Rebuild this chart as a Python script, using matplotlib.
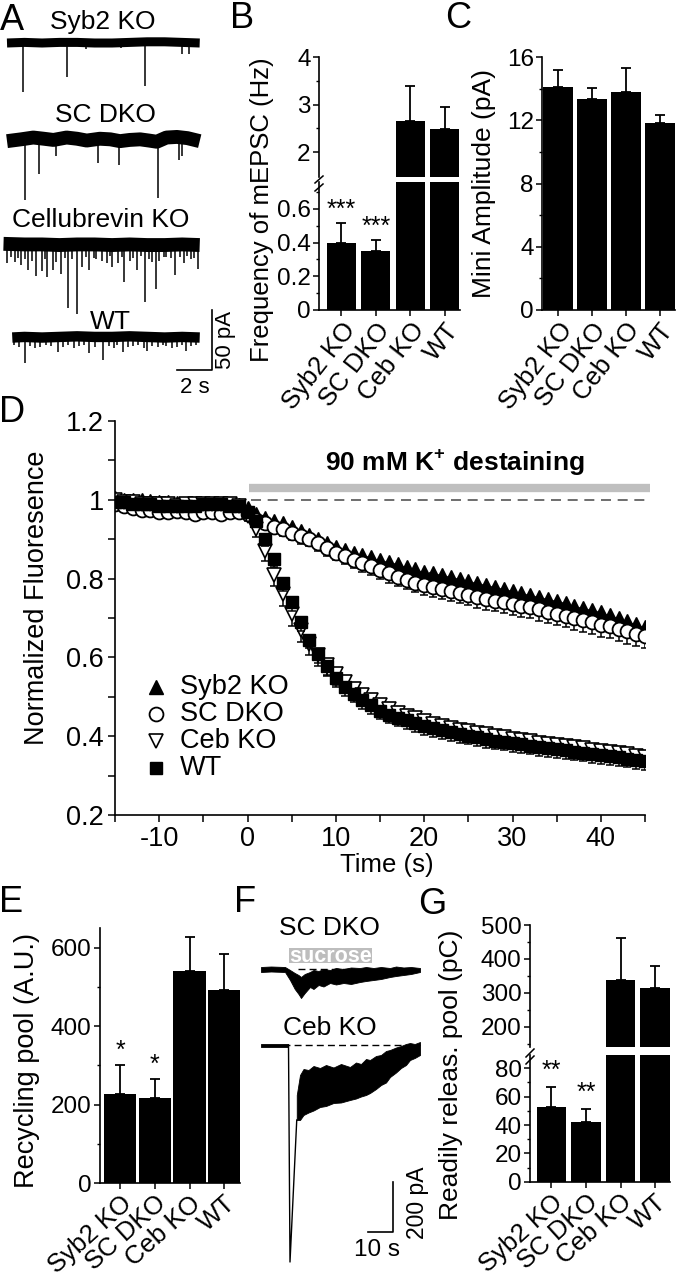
import numpy as np
import matplotlib.pyplot as plt
from matplotlib.lines import Line2D
from matplotlib.patches import Rectangle

plt.rcParams['font.family'] = ['Liberation Sans', 'DejaVu Sans']
plt.rcParams['mathtext.fontset'] = 'custom'
plt.rcParams['mathtext.rm'] = 'Liberation Sans'
plt.rcParams['mathtext.bf'] = 'Liberation Sans:bold'
plt.rcParams['axes.unicode_minus'] = False
plt.rcParams['axes.linewidth'] = 1.2

# --- bar panels (B, C, E, G) ---
CATS = ['Syb2 KO', 'SC DKO', 'Ceb KO', 'WT']
B_FREQ = [0.396, 0.352, 2.65, 2.48]
B_FREQ_ERR = [0.119, 0.064, 0.74, 0.47]
B_STARS = ['***', '***', '', '']
C_AMP = [14.1, 13.33, 13.78, 11.8]
C_AMP_ERR = [1.1, 0.7, 1.52, 0.54]
E_POOL = [227, 217, 540, 493]
E_POOL_ERR = [73, 48, 87, 92]
E_STARS = ['*', '*', '', '']
G_RRP = [52.9, 42.3, 338, 315]
G_RRP_ERR = [14.1, 9.0, 123, 64]
G_STARS = ['**', '**', '', '']

# --- panel D: FM dye destaining, 1 s sampling ---
TIME = list(range(-15, 46))
D_SYB2 = [1.005, 1.0, 1.0, 1.0, 0.998, 0.995, 0.995, 0.993, 0.99, 0.99, 0.99, 0.99, 0.99, 0.988, 0.988,
          0.98, 0.965, 0.955, 0.946, 0.94, 0.93, 0.92, 0.91, 0.90, 0.89, 0.88, 0.872, 0.865, 0.86, 0.855,
          0.848, 0.843, 0.836, 0.83, 0.824, 0.818, 0.813, 0.808, 0.803, 0.798, 0.793, 0.788, 0.783, 0.778,
          0.773, 0.768, 0.763, 0.758, 0.753, 0.748, 0.742, 0.737, 0.731, 0.726, 0.72, 0.714, 0.708, 0.7,
          0.692, 0.686, 0.678]
D_SC = [0.99, 0.985, 0.98, 0.975, 0.975, 0.97, 0.97, 0.972, 0.968, 0.965, 0.968, 0.97, 0.965, 0.968, 0.97,
        0.965, 0.95, 0.94, 0.932, 0.925, 0.916, 0.907, 0.9, 0.89, 0.878, 0.866, 0.857, 0.848, 0.84, 0.832,
        0.822, 0.813, 0.805, 0.797, 0.789, 0.783, 0.778, 0.773, 0.768, 0.763, 0.758, 0.753, 0.748, 0.744,
        0.74, 0.736, 0.731, 0.727, 0.722, 0.716, 0.71, 0.705, 0.7, 0.695, 0.69, 0.682, 0.68, 0.672, 0.666,
        0.66, 0.654]
D_CEB = [1.0, 0.995, 0.995, 0.99, 0.99, 0.99, 0.99, 0.985, 0.99, 0.99, 0.99, 0.99, 0.99, 0.99, 0.985,
         0.96, 0.925, 0.87, 0.81, 0.76, 0.71, 0.67, 0.635, 0.605, 0.58, 0.557, 0.537, 0.52, 0.505, 0.492,
         0.48, 0.469, 0.46, 0.452, 0.445, 0.438, 0.432, 0.427, 0.422, 0.417, 0.413, 0.409, 0.405, 0.401,
         0.397, 0.394, 0.39, 0.387, 0.384, 0.381, 0.378, 0.375, 0.372, 0.369, 0.366, 0.363, 0.36, 0.357,
         0.354, 0.351, 0.348]
D_WT = [0.995, 0.995, 0.99, 0.99, 0.99, 0.985, 0.985, 0.985, 0.985, 0.985, 0.99, 0.99, 0.99, 0.985, 0.985,
        0.97, 0.945, 0.9, 0.85, 0.79, 0.74, 0.69, 0.645, 0.608, 0.578, 0.548, 0.525, 0.508, 0.492, 0.478,
        0.465, 0.455, 0.447, 0.44, 0.433, 0.426, 0.42, 0.415, 0.41, 0.405, 0.401, 0.397, 0.393, 0.389,
        0.386, 0.382, 0.379, 0.376, 0.373, 0.37, 0.367, 0.364, 0.361, 0.358, 0.355, 0.352, 0.349, 0.346,
        0.343, 0.34, 0.337]
ERR_SYB2 = [0.008, 0.009, 0.008, 0.007, 0.008, 0.009, 0.008, 0.008, 0.007, 0.008, 0.009, 0.008, 0.008, 0.007, 0.008,
            0.01, 0.01, 0.011, 0.011, 0.012, 0.012, 0.013, 0.013, 0.014, 0.014, 0.015, 0.015, 0.015, 0.016, 0.016,
            0.016, 0.017, 0.017, 0.017, 0.018, 0.018, 0.018, 0.018, 0.019, 0.019, 0.019, 0.019, 0.02, 0.02, 0.02,
            0.02, 0.02, 0.021, 0.021, 0.021, 0.021, 0.022, 0.022, 0.022, 0.022, 0.022, 0.023, 0.023, 0.023, 0.023,
            0.024]
ERR_SC = [0.01, 0.011, 0.01, 0.009, 0.01, 0.011, 0.01, 0.01, 0.011, 0.01, 0.009, 0.01, 0.011, 0.01, 0.01,
          0.012, 0.013, 0.014, 0.015, 0.016, 0.017, 0.018, 0.018, 0.019, 0.02, 0.02, 0.021, 0.021, 0.022, 0.022,
          0.023, 0.023, 0.024, 0.024, 0.024, 0.025, 0.025, 0.025, 0.026, 0.026, 0.026, 0.027, 0.027, 0.027, 0.028,
          0.028, 0.028, 0.028, 0.029, 0.029, 0.029, 0.029, 0.03, 0.03, 0.03, 0.03, 0.03, 0.031, 0.031, 0.031,
          0.031]
ERR_CEB = [0.01, 0.01, 0.011, 0.01, 0.01, 0.009, 0.01, 0.011, 0.01, 0.01, 0.01, 0.009, 0.01, 0.01, 0.011,
           0.015, 0.02, 0.025, 0.03, 0.03, 0.03, 0.03, 0.028, 0.027, 0.026, 0.026, 0.025, 0.025, 0.025, 0.025,
           0.025, 0.025, 0.025, 0.025, 0.025, 0.025, 0.025, 0.025, 0.025, 0.025, 0.025, 0.025, 0.025, 0.025, 0.025,
           0.025, 0.025, 0.025, 0.025, 0.025, 0.025, 0.025, 0.025, 0.025, 0.025, 0.025, 0.025, 0.025, 0.025, 0.025,
           0.025]
ERR_WT = [0.008, 0.008, 0.009, 0.008, 0.008, 0.007, 0.008, 0.008, 0.009, 0.008, 0.008, 0.008, 0.007, 0.008, 0.008,
          0.012, 0.015, 0.018, 0.02, 0.022, 0.022, 0.022, 0.022, 0.022, 0.022, 0.022, 0.022, 0.022, 0.022, 0.022,
          0.022, 0.022, 0.022, 0.022, 0.022, 0.022, 0.022, 0.022, 0.022, 0.022, 0.022, 0.022, 0.022, 0.022, 0.022,
          0.022, 0.022, 0.022, 0.022, 0.022, 0.022, 0.022, 0.022, 0.022, 0.022, 0.022, 0.022, 0.022, 0.022, 0.022,
          0.022]

# --- panel A: mEPSC traces (s, pA) ---
SYB2_WOB_T = [0, 1, 2, 3, 4, 5, 6, 7, 8, 9, 10, 11]
SYB2_WOB = [0, 0.5, 0, 0.5, 0.5, 0, 0, 0.5, 1, 1, 0.5, 0]
SYB2_EV_T = [0.9, 3.4, 4.5, 6.5, 7.9, 10.0, 10.4]
SYB2_EV_A = [41, 28, 5, 4, 36, 9, 9]
SC_WOB_T = [0, 0.8, 1.5, 2.1, 2.65, 3.4, 4.0, 4.55, 5.3, 5.9, 6.45, 7.0, 7.6, 8.1, 8.55, 9.1, 9.7, 10.3, 11]
SC_WOB = [0, 1.5, 3, 2, 1, 3, 2, 0.5, 2, 1.5, 0, 1, 1.5, 0.5, -0.5, 3, 3.5, 2.5, 0]
SC_EV_T = [1.0, 1.8, 2.8, 5.2, 6.4, 8.6, 9.8, 10.0]
SC_EV_A = [49, 27, 12, 18, 20, 47, 16, 12]
CELL_WOB_T = [-0.2, 1, 2, 3, 4, 5, 6, 7, 8, 9, 10, 11]
CELL_WOB = [1, 0.5, 0.5, 0, 0.5, 0.5, 0, 0.5, 0, 0, 0.5, 0]
CELL_EV_T = [3.5, 4.0, 6.7, 7.9, 8.5,
             0.0, 0.46, 0.8, 1.2, 1.66, 2.0, 2.3, 2.6, 3.1, 3.7, 4.3, 4.7, 5.1, 5.7, 6.0, 6.35, 7.0, 7.4,
             8.3, 8.7, 9.1, 9.6, 10.1, 10.5, 10.9,
             0.25, 0.6, 1.0, 1.45, 2.15, 2.8, 3.3, 4.5, 4.95, 5.4, 5.9, 6.55, 7.2, 7.65, 8.1, 8.95, 9.35,
             9.85, 10.3, 10.7]
CELL_EV_A = [52, 57, 31, 47, 37,
             15, 14, 17, 21, 26, 22, 27, 21, 24, 12, 18, 21, 12, 15, 18, 15, 13, 21,
             14, 13, 10, 25, 15, 12, 20,
             10, 11, 12, 13, 12, 14, 11, 10, 11, 13, 9, 10, 11, 9, 12, 10, 11,
             10, 9, 11]
WT_WOB_T = [0.3, 1, 2, 3, 4, 5, 6, 7, 8, 9, 10, 11]
WT_WOB = [0, 0.5, 0, 0.5, 1, 0.5, 0.5, 1, 0.5, 0, 0.5, 0]
WT_EV_T = [1.0, 2.9, 4.7, 5.5, 6.6, 8.0, 9.4, 10.2,
           0.4, 0.7, 1.3, 1.6, 1.9, 2.2, 2.5, 3.2, 3.5, 3.8, 4.1, 4.4, 5.0, 5.8, 6.1, 6.3, 6.9, 7.2,
           7.5, 7.8, 8.3, 8.6, 8.9, 9.1, 9.7, 10.0, 10.5, 10.8]
WT_EV_A = [21, 12, 13, 19, 12, 11, 9, 11,
           6, 8, 7, 9, 8, 6, 7, 8, 6, 9, 7, 6, 8, 7, 9, 6, 8, 7,
           6, 9, 7, 8, 6, 7, 8, 6, 7, 6]

# --- panel F: sucrose responses (s, pA) ---
SC_BAND_T = [0, 4, 9.6, 11.6, 13.5, 15, 16, 17.5, 19.6, 21, 23, 25, 27.6, 30, 33, 36, 39.6, 42, 45,
             48, 51.6, 54, 57, 60, 63.6]
SC_BAND_HI = [8, 10, 8, -4, -16, -24, -32, -20, -12, -4, -8, 0, -4, 4, 0, 6, 4, 8, 4, 8, 4, 10, 6, 8, 4]
SC_BAND_LO = [-12, -10, -12, -44, -80, -100, -116, -96, -72, -80, -64, -70, -56, -62, -56, -60, -52, -48,
              -44, -40, -32, -28, -24, -20, -12]
CEB_PRE_T = [0, 11.0]
CEB_PEAK_T = [11.0, 11.6, 14.3]
CEB_PEAK_V = [0, -868, -300]
CEB_BAND_T = [14.3, 15.6, 17, 19, 21, 23.6, 26, 29, 32, 35.6, 38, 40, 42, 43.6, 46, 48, 50, 51.6,
              54, 56, 58, 59.6, 61.5, 63.6]
CEB_BAND_HI = [-200, -120, -96, -100, -84, -92, -80, -90, -76, -88, -70, -76, -56, -60, -44, -40, -24,
               -20, -10, -4, 4, 8, 4, 12]
CEB_BAND_LO = [-300, -300, -280, -270, -262, -248, -244, -232, -230, -220, -214, -206, -200, -192, -176,
               -160, -150, -128, -110, -92, -80, -60, -52, -40]
SUCROSE = (11.2, 44.4)

W, H = 679, 1280
fig = plt.figure(figsize=(W / 100, H / 100), dpi=100)


def px_axes(x0, y0, x1, y1):
    return fig.add_axes([x0 / W, 1 - y1 / H, (x1 - x0) / W, (y1 - y0) / H])


def fig_text(x, y, s, **kw):
    fig.text(x / W, 1 - y / H, s, **kw)


def fig_line(xs, ys, **kw):
    fig.add_artist(Line2D([x / W for x in xs], [1 - y / H for y in ys], color='black', lw=1.1, **kw))


def draw_bars(ax, vals, errs, width):
    x = np.arange(len(vals))
    ax.bar(x, vals, width=width, color='black', zorder=2)
    ax.errorbar(x, vals, yerr=[np.zeros(len(errs)), errs], fmt='none', ecolor='black',
                elinewidth=1.3, capsize=3.5, capthick=1.3, zorder=1)


def style_ax(ax, xlim, ylim, major, minor, labels=None, show_x=True, rot=50):
    ax.set_xlim(*xlim)
    ax.set_ylim(*ylim)
    ax.patch.set_visible(False)
    ax.spines[['top', 'right']].set_visible(False)
    ax.set_yticks(major)
    if labels is not None:
        ax.set_yticklabels(labels)
    ax.set_yticks(minor, minor=True)
    ax.tick_params(which='major', direction='out', length=4, width=1.1, labelsize=17.5, pad=2)
    ax.tick_params(which='minor', direction='out', length=2.5, width=1)
    if show_x:
        ax.set_xticks(range(len(CATS)))
        ax.set_xticklabels(CATS, rotation=rot, ha='right', va='top', rotation_mode='anchor', fontsize=18.5)
    else:
        ax.spines['bottom'].set_visible(False)
        ax.set_xticks([])


def add_stars(ax, vals, errs, stars, dy=1):
    for i, s in enumerate(stars):
        if s:
            ax.annotate(s, (i, vals[i] + errs[i]), xytext=(0, dy), textcoords='offset points',
                        ha='center', va='bottom', fontsize=18, annotation_clip=False)


# ---------------- A ----------------
axA = px_axes(0, 0, 240, 400)
axA.set_xlim(-0.4, 13.3)
axA.set_ylim(-333, 0)
axA.axis('off')
for wt, wv, et, ea, base, lw in [(SYB2_WOB_T, SYB2_WOB, SYB2_EV_T, SYB2_EV_A, -35.8, 6.5),
                                  (SC_WOB_T, SC_WOB, SC_EV_T, SC_EV_A, -117.5, 10),
                                  (CELL_WOB_T, CELL_WOB, CELL_EV_T, CELL_EV_A, -204, 10),
                                  (WT_WOB_T, WT_WOB, WT_EV_T, WT_EV_A, -281, 7.5)]:
    axA.plot(wt, base + np.array(wv), color='black', lw=lw, solid_capstyle='butt', solid_joinstyle='round')
    axA.vlines(et, base - np.array(ea), base, color='black', lw=1.1)
for s, x, y in [('Syb2 KO', 5.49, -18.3), ('SC DKO', 5.6, -95.8),
                ('Cellubrevin KO', 5.37, -183), ('WT', 5.9, -268)]:
    axA.text(x, y, s, ha='center', va='center', fontsize=19)
axA.plot([9.71, 11.71, 11.71], [-308.3, -308.3, -258.3], color='black', lw=1.2)
axA.text(12.5, -283, '50 pA', rotation=90, ha='center', va='center', fontsize=16)
axA.text(10.74, -323, '2 s', ha='center', va='center', fontsize=16)

# ---------------- B ----------------
axBl = px_axes(319, 182, 460, 310)
axBu = px_axes(319, 57, 460, 177)
for ax in (axBl, axBu):
    draw_bars(ax, B_FREQ, B_FREQ_ERR, 0.85)
style_ax(axBl, (-0.655, 3.45), (0, 0.76), [0, 0.2, 0.4, 0.6], [0.1, 0.3, 0.5, 0.7],
         labels=['0', '0.2', '0.4', '0.6'], rot=52)
style_ax(axBu, (-0.655, 3.45), (1.474, 4.0), [2, 3, 4], [2.5, 3.5], show_x=False)
add_stars(axBl, B_FREQ, B_FREQ_ERR, B_STARS)
fig_line([315, 323], [183, 176])
fig_line([315, 323], [191, 184])
fig_text(262, 210, 'Frequency of mEPSC (Hz)', rotation=90, ha='center', va='center', fontsize=18.5)

# ---------------- C ----------------
axC = px_axes(542, 57, 675, 310)
draw_bars(axC, C_AMP, C_AMP_ERR, 0.88)
style_ax(axC, (-0.47, 3.45), (0, 16), [0, 4, 8, 12, 16], [2, 6, 10, 14], rot=52)
fig_text(484, 184, 'Mini Amplitude (pA)', rotation=90, ha='center', va='center', fontsize=19)

# ---------------- D ----------------
axD = px_axes(115, 421, 645, 815)
axD.set_xlim(-15, 45)
axD.set_ylim(0.2, 1.2)
axD.patch.set_visible(False)
axD.spines[['top', 'right']].set_visible(False)
axD.set_xticks(range(-10, 41, 10))
axD.set_xticks(range(-15, 46, 10), minor=True)
axD.set_yticks([0.2, 0.4, 0.6, 0.8, 1.0, 1.2])
axD.set_yticklabels(['0.2', '0.4', '0.6', '0.8', '1', '1.2'])
axD.set_yticks([0.3, 0.5, 0.7, 0.9, 1.1], minor=True)
axD.tick_params(which='both', direction='out', length=5, width=1.1, labelsize=19.5, pad=3)
axD.plot([0.2, 45.6], [1.031, 1.031], color='#bfbfbf', lw=6, solid_capstyle='butt', clip_on=False)
axD.plot([0.4, 45.5], [1.0, 1.0], color='#555555', lw=1.2, dashes=(6, 4), clip_on=False)
axD.text(23.5, 1.097, r'90 mM K$^{\mathbf{+}}$ destaining', ha='center', va='center',
         fontsize=19, fontweight='bold')

SERIES = [('Syb2 KO', D_SYB2, ERR_SYB2, dict(marker='^', ms=9.5, mfc='black', mec='black')),
          ('SC DKO', D_SC, ERR_SC, dict(marker='o', ms=10, mfc='white', mec='black', mew=1.3)),
          ('Ceb KO', D_CEB, ERR_CEB, dict(marker='v', ms=9.5, mfc='white', mec='black', mew=1.2)),
          ('WT', D_WT, ERR_WT, dict(marker='s', ms=8, mfc='black', mec='black'))]
for lab, vals, err, sty in SERIES:
    axD.errorbar(TIME, vals, yerr=[err, np.zeros(len(err))], fmt='none', ecolor='black',
                 elinewidth=1.1, capsize=3, capthick=1.1)
    axD.plot(TIME, vals, ls='none', **sty)
for i, (lab, vals, err, sty) in enumerate(SERIES):
    yy = 0.325 - i * 0.0685
    axD.plot([0.077], [yy], ls='none', transform=axD.transAxes, clip_on=False, **sty)
    axD.text(0.123, yy, lab, transform=axD.transAxes, ha='left', va='center', fontsize=19.5)
fig_text(37, 598, 'Normalized Fluoresence', rotation=90, ha='center', va='center', fontsize=19.5)
fig_text(387, 865, 'Time (s)', ha='center', va='center', fontsize=18.5)

# ---------------- E ----------------
axE = px_axes(99.6, 928, 240, 1183)
draw_bars(axE, E_POOL, E_POOL_ERR, 0.93)
style_ax(axE, (-0.59, 3.45), (0, 651), [0, 200, 400, 600], [100, 300, 500], rot=42)
add_stars(axE, E_POOL, E_POOL_ERR, E_STARS, dy=2)
fig_text(27, 1060, 'Recycling pool (A.U.)', rotation=90, ha='center', va='center', fontsize=19.5)

# ---------------- F ----------------
axF = px_axes(195, 900, 440, 1270)
axF.set_xlim((195 - 261) / 2.5, (440 - 261) / 2.5)
axF.set_ylim(-1480, 0)
axF.axis('off')
sc_base, ceb_base = -276, -580
axF.plot([15, 37.6], [sc_base, sc_base], color='black', lw=1, dashes=(5, 3))
axF.fill_between(SC_BAND_T, sc_base + np.array(SC_BAND_LO), sc_base + np.array(SC_BAND_HI),
                 color='black', lw=0.6)
axF.add_patch(Rectangle((SUCROSE[0], -252), SUCROSE[1] - SUCROSE[0], 60, color='#bdbdbd', lw=0))
axF.text(sum(SUCROSE) / 2, -226, 'sucrose', color='white', fontweight='bold', fontsize=15.5,
         ha='center', va='center')
axF.plot([9, 63.6], [ceb_base, ceb_base], color='black', lw=1, dashes=(5, 3))
axF.fill_between(CEB_PRE_T, ceb_base - 7, ceb_base + 6, color='black', lw=0.6)
axF.plot(CEB_PEAK_T, ceb_base + np.array(CEB_PEAK_V), color='black', lw=1)
axF.fill_between(CEB_BAND_T, ceb_base + np.array(CEB_BAND_LO), ceb_base + np.array(CEB_BAND_HI),
                 color='black', lw=0.6)
axF.text(27.2, -112, 'SC DKO', ha='center', va='center', fontsize=19)
axF.text(27.6, -512, 'Ceb KO', ha='center', va='center', fontsize=19)
axF.plot([42.8, 52.8, 52.8], [-1328, -1328, -1128], color='black', lw=1.2)
axF.text(62.8, -1212, '200 pA', rotation=90, ha='center', va='center', fontsize=16.5)
axF.text(46.4, -1400, '10 s', ha='center', va='center', fontsize=17.5)

# ---------------- G ----------------
axGl = px_axes(530, 1055, 670, 1181.7)
axGu = px_axes(530, 925, 670, 1047.3)
for ax in (axGl, axGu):
    draw_bars(ax, G_RRP, G_RRP_ERR, 0.85)
style_ax(axGl, (-0.62, 3.43), (0, 89.4), [0, 20, 40, 60, 80], [10, 30, 50, 70], rot=42)
style_ax(axGu, (-0.62, 3.43), (140, 500), [200, 300, 400, 500], [150, 250, 350, 450], show_x=False)
add_stars(axGl, G_RRP, G_RRP_ERR, G_STARS, dy=3)
fig_line([526, 534], [1057, 1049])
fig_line([526, 534], [1064, 1056])
fig_text(451, 1075, 'Readily releas. pool (pC)', rotation=90, ha='center', va='center', fontsize=19)

# panel letters
for s, x, y in [('A', 12, 21), ('B', 242, 18), ('C', 458, 19), ('D', 12, 412),
                ('E', 11, 902), ('F', 245, 902), ('G', 432, 905)]:
    fig_text(x, y, s, ha='center', va='center', fontsize=26)

fig.savefig('out.png', dpi=100)
